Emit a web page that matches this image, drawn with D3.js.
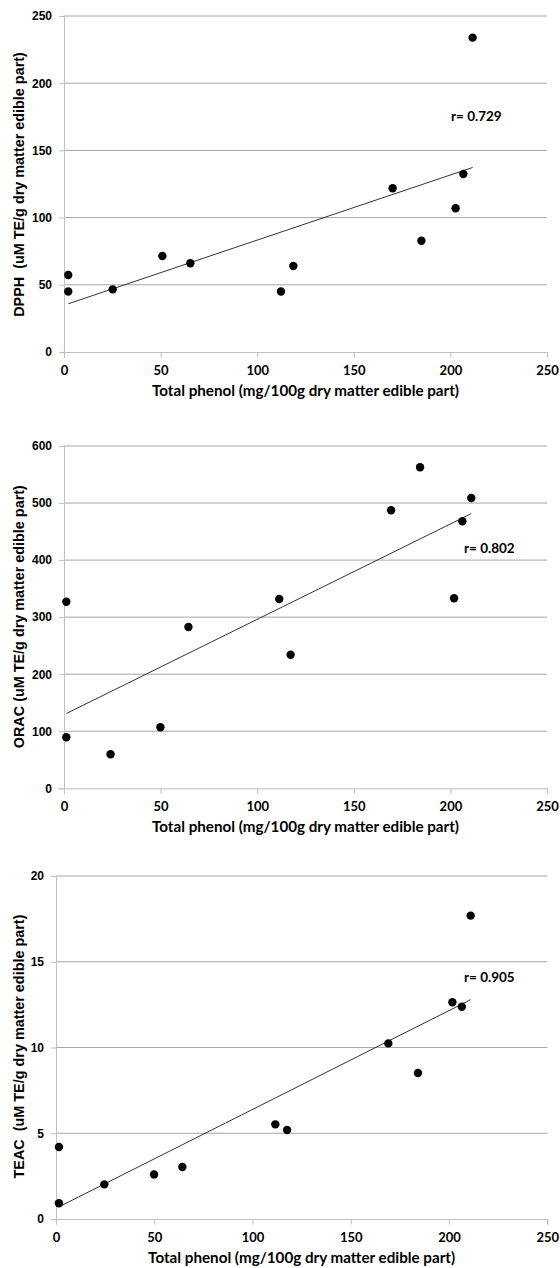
<!DOCTYPE html>
<html><head><meta charset="utf-8">
<script src="https://cdn.jsdelivr.net/npm/d3@7"></script>
<style>body{margin:0;background:#fff}svg{display:block}</style>
</head><body>
<script>
// ---- data ----
const xTicks = [0, 50, 100, 150, 200, 250];
const xTitle = "Total phenol (mg/100g dry matter edible part)";

const phenolDPPH = [2.2, 2.2, 25.2, 50.9, 65.4, 112.3, 118.7, 170.1, 185.0, 202.7, 206.7, 211.5];
const dpph       = [57.3, 45.0, 46.6, 71.4, 66.0, 45.0, 64.0, 121.8, 82.8, 107.0, 132.4, 233.9];
const dpphTicks  = [0, 50, 100, 150, 200, 250];

const phenolORAC = [1.2, 1.2, 24.1, 49.9, 64.4, 111.4, 117.3, 169.3, 184.3, 201.9, 206.2, 210.8];
const orac       = [327, 89.4, 59.6, 106.9, 282.7, 331.8, 234.2, 487.3, 562.7, 333, 468, 508.9];
const oracTicks  = [0, 100, 200, 300, 400, 500, 600];

const phenolTEAC = [1.5, 1.5, 24.6, 49.9, 64.3, 111.6, 117.6, 169.1, 184.2, 201.7, 206.5, 211.0];
const teac       = [4.2, 0.92, 2.02, 2.6, 3.03, 5.52, 5.19, 10.24, 8.51, 12.64, 12.38, 17.69];
const teacTicks  = [0, 5, 10, 15, 20];

const yTitles = ["DPPH  (uM TE/g dry matter edible part)", "ORAC (uM TE/g dry matter edible part)", "TEAC  (uM TE/g dry matter edible part)"];
const rLabels = ["r= 0.729", "r= 0.802", "r= 0.905"];

// ---- layout ----
const panels = [
  {xs: phenolDPPH, ys: dpph, yTicks: dpphTicks, yTitle: yTitles[0], r: rLabels[0],
   l: 64, rr: 547, t: 16, b: 352, rPos: [451, 121], yTitleC: 184.5},
  {xs: phenolORAC, ys: orac, yTicks: oracTicks, yTitle: yTitles[1], r: rLabels[1],
   l: 64, rr: 547, t: 446, b: 788.3, rPos: [464, 552.5], yTitleC: 616.7},
  {xs: phenolTEAC, ys: teac, yTicks: teacTicks, yTitle: yTitles[2], r: rLabels[2],
   l: 56, rr: 547.3, t: 876, b: 1219, rPos: [464, 982.3], yTitleC: 1046.5}
];

const ARIAL = "'Liberation Sans', Arial, sans-serif";
const CAL = "Lato, 'Open Sans', sans-serif";

const svg = d3.select("body").append("svg").attr("width", 560).attr("height", 1268);

panels.forEach(p => {
  const x = d3.scaleLinear().domain([xTicks[0], xTicks[xTicks.length-1]]).range([p.l, p.rr]);
  const y = d3.scaleLinear().domain([p.yTicks[0], p.yTicks[p.yTicks.length-1]]).range([p.b, p.t]);
  const g = svg.append("g");

  // gridlines
  g.selectAll(".grid").data(p.yTicks.slice(1)).join("line")
    .attr("x1", p.l).attr("x2", p.rr)
    .attr("y1", d => y(d)).attr("y2", d => y(d))
    .attr("stroke", "#a6a6a6").attr("stroke-width", 1);

  // y axis
  const ya = g.append("g").attr("transform", `translate(${p.l},0)`)
    .call(d3.axisLeft(y).tickValues(p.yTicks).tickSize(5).tickPadding(7).tickFormat(d3.format("d")));
  ya.select(".domain").attr("stroke", "#bfbfbf");
  ya.selectAll(".tick line").attr("stroke", "#bfbfbf");
  ya.selectAll(".tick text").attr("fill", "#000").attr("font-family", ARIAL)
    .attr("font-weight", "bold").attr("font-size", 12);

  // x axis
  const xa = g.append("g").attr("transform", `translate(0,${p.b})`)
    .call(d3.axisBottom(x).tickValues(xTicks).tickSize(5.5).tickFormat(d3.format("d")));
  xa.select(".domain").attr("stroke", "#bfbfbf");
  xa.selectAll(".tick line").attr("stroke", "#bfbfbf");
  xa.selectAll(".tick text").attr("fill", "#000").attr("font-family", CAL)
    .attr("font-weight", "bold").attr("font-size", 13)
    .attr("dy", null).attr("y", 23);

  // trend line (least squares)
  const n = p.xs.length;
  const mx = d3.mean(p.xs), my = d3.mean(p.ys);
  let sxy = 0, sxx = 0;
  for (let i = 0; i < n; i++) { sxy += (p.xs[i]-mx)*(p.ys[i]-my); sxx += (p.xs[i]-mx)**2; }
  const slope = sxy / sxx, icpt = my - slope*mx;
  const [x0, x1] = d3.extent(p.xs);
  g.append("line")
    .attr("x1", x(x0)).attr("y1", y(icpt + slope*x0))
    .attr("x2", x(x1)).attr("y2", y(icpt + slope*x1))
    .attr("stroke", "#333").attr("stroke-width", 1);

  // points
  g.selectAll(".pt").data(p.xs.map((v, i) => [v, p.ys[i]])).join("circle")
    .attr("cx", d => x(d[0])).attr("cy", d => y(d[1])).attr("r", 4.2).attr("fill", "#000");

  // r label
  g.append("text").attr("x", p.rPos[0]).attr("y", p.rPos[1])
    .attr("font-family", CAL).attr("font-weight", "bold").attr("font-size", 13.5).text(p.r);

  // x title
  g.append("text").attr("x", (p.l + p.rr)/2).attr("y", p.b + 44).attr("text-anchor", "middle")
    .attr("font-family", CAL).attr("font-weight", "bold").attr("font-size", 15.2).text(xTitle);

  // y title
  g.append("text").attr("transform", `translate(24,${p.yTitleC}) rotate(-90)`)
    .attr("text-anchor", "middle").attr("xml:space", "preserve").style("white-space", "pre")
    .attr("font-family", ARIAL).attr("font-weight", "bold").attr("font-size", 14.4).text(p.yTitle);
});
</script>
</body></html>
